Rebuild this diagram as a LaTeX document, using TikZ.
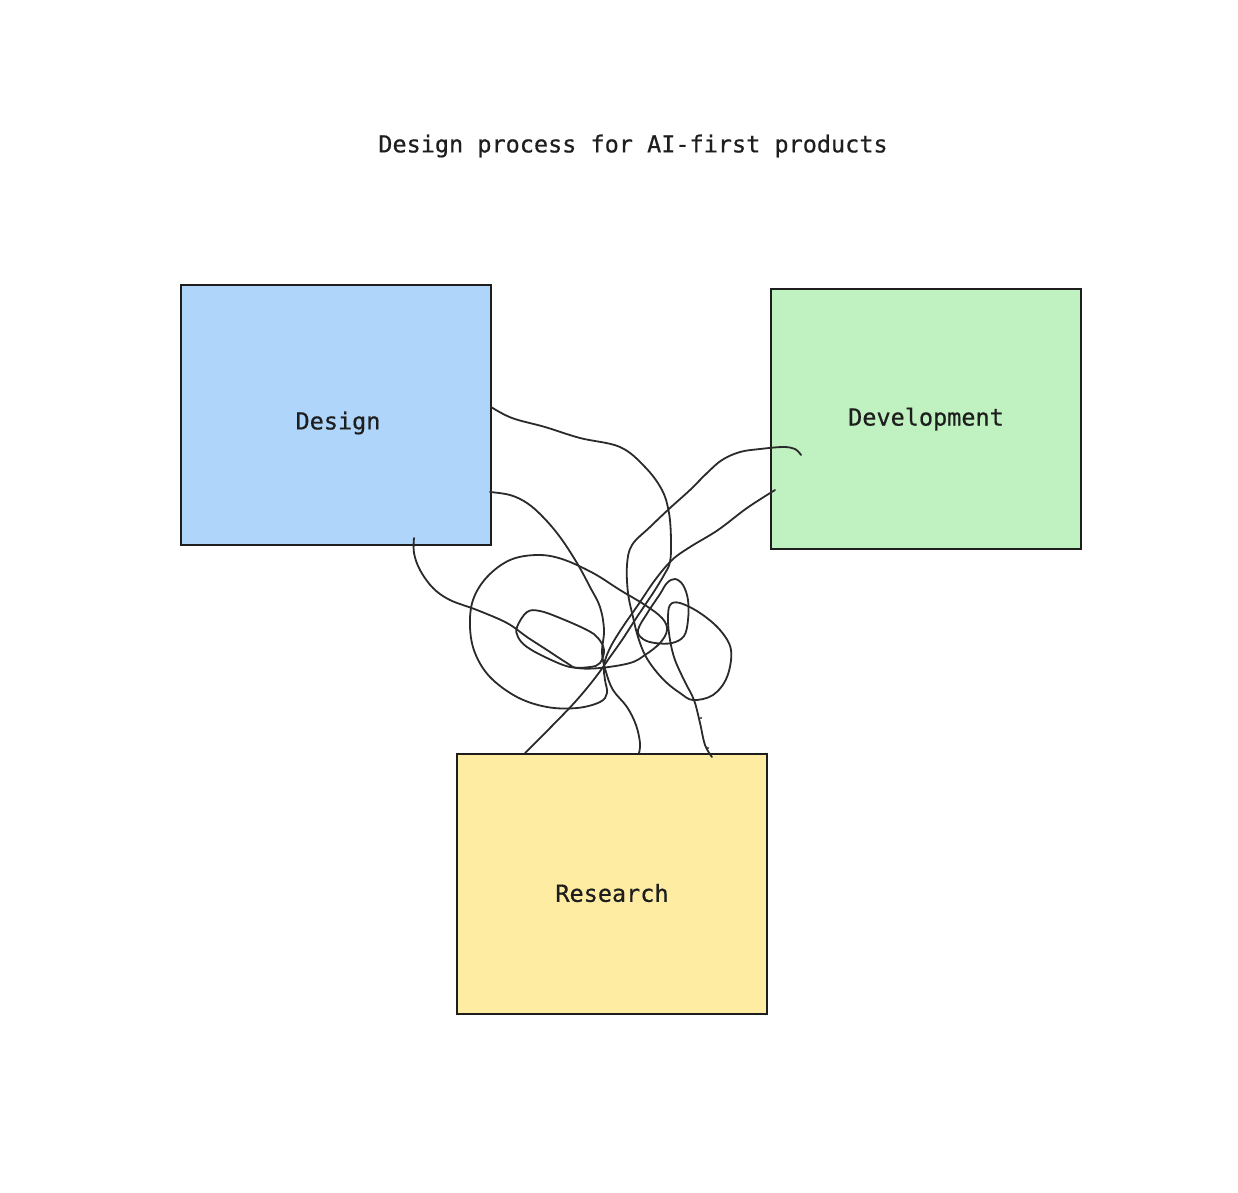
\documentclass[tikz,border=0pt]{standalone}
\usepackage{fontspec}
\newfontfamily\lblfont[FakeBold=0.6]{DejaVu Sans Mono}
\definecolor{inkc}{HTML}{1E1E1E}
\definecolor{scrib}{HTML}{2A2A2A}
\definecolor{bluef}{HTML}{AFD6FA}
\definecolor{greenf}{HTML}{C0F1C0}
\definecolor{yellowf}{HTML}{FDECA2}
\begin{document}
\begin{tikzpicture}[x=1pt,y=-1pt,
  boxst/.style={draw=inkc,line width=2pt,minimum width=310pt,minimum height=260pt,inner sep=0pt},
  lbl/.style={font=\fontsize{23.5}{28}\selectfont\lblfont,text=inkc,inner sep=0pt},
  scribble/.style={draw=scrib,line width=1.8pt,line cap=round,line join=round}]
\useasboundingbox (0,0) rectangle (1238,1192);
\node[lbl] (title) at (633,146) {Design process for AI-first products};
\node[boxst,fill=bluef] (design) at (336,415) {};
\node[lbl] (designlbl) at (338,423) {Design};
\node[boxst,fill=greenf] (dev) at (926,419) {};
\node[lbl] (devlbl) at (926,419) {Development};
\node[boxst,fill=yellowf] (res) at (612,884) {};
\node[lbl] (reslbl) at (612,893) {Research};
% scribbles
\draw[scribble] plot[smooth,tension=0.6] coordinates {(491,407) (512,418) (545,427) (580,438) (620,447) (645,467) (662,490) (669,513) (671,540) (670,562) (664,575) (655,590) (645,605) (635,620) (622,640) (610,657) (595,678) (575,702) (550,728) (525,753)};
\draw[scribble] plot[smooth,tension=0.6] coordinates {(775,490) (747,508) (718,530) (690,547) (672,560) (655,580) (638,605) (622,628) (610,648) (604,665) (605,680) (607,693) (600,702) (577,708) (547,707) (517,697) (490,677) (475,653) (470,627) (473,600) (487,577) (510,560) (537,555) (562,559) (593,573) (620,590) (645,605) (662,618) (667,630) (660,643) (645,655) (630,663) (600,668) (577,668) (567,663) (547,650) (527,637) (507,623) (477,610) (450,600) (433,588) (420,570) (414,553) (414,538)};
\draw[scribble] plot[smooth,tension=0.6] coordinates {(490,492) (510,495) (527,503) (543,517) (560,537) (577,563) (590,587) (600,607) (604,630) (602,653) (606,672) (613,690) (627,707) (636,725) (640,743) (639,753)};
\draw[scribble] plot[smooth cycle,tension=0.6] coordinates {(517,627) (527,612) (540,611) (560,618) (587,630) (598,638) (604,650) (600,663) (590,667) (570,667) (547,658) (527,647) (518,637)};
\draw[scribble] plot[smooth,tension=0.6] coordinates {(801,455) (795,449) (783,447) (760,449) (740,452) (722,460) (707,473) (690,490) (670,508) (650,527) (632,545) (627,565) (628,593) (633,617) (638,637) (645,655) (655,670) (667,683) (680,693) (693,700) (713,695) (727,677) (731,650) (720,630) (700,613) (680,603) (670,605) (668,620) (670,640) (675,660) (685,682) (694,700) (700,723) (705,745) (712,757)};
\draw[scribble] plot[smooth cycle,tension=0.6] coordinates {(638,630) (648,612) (660,594) (667,583) (675,579) (683,585) (688,600) (688,620) (684,636) (672,643) (655,643) (643,639)};
\fill[scrib] (701,718) circle (1.1pt);
\fill[scrib] (708,748) circle (1.1pt);
\end{tikzpicture}
\end{document}
